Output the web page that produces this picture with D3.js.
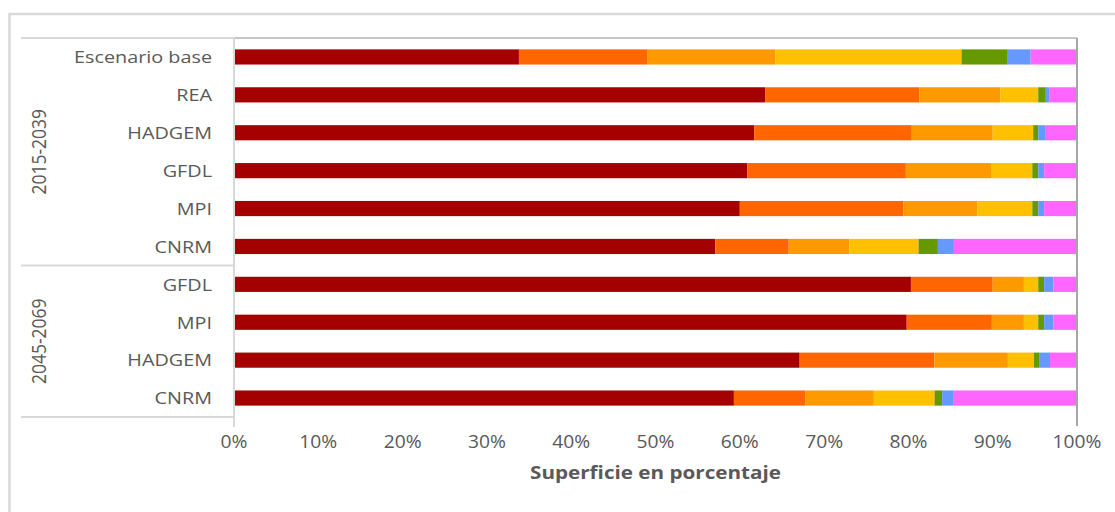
<!DOCTYPE html>
<html>
<head>
<meta charset="utf-8">
<script src="https://cdn.jsdelivr.net/npm/d3@7"></script>
<style>
  html, body { margin: 0; padding: 0; background: #fff; }
  svg { display: block; }
  text { font-family: "Open Sans", sans-serif; fill: #595959; }
</style>
</head>
<body>
<svg id="chart" width="1115" height="512"></svg>
<script>
// ---- Data ----
const categories = ["Escenario base", "REA", "HADGEM", "GFDL", "MPI", "CNRM", "GFDL", "MPI", "HADGEM", "CNRM"];
const groupLabels = ["2015-2039", "2045-2069"];
const groupSizes = [6, 4];
const seriesNames = ["c1", "c2", "c3", "c4", "c5", "c6", "c7"];
const s1 = [33.8, 63.0, 61.7, 60.9, 60.0, 57.1, 80.3, 79.8, 67.1, 59.3];
const s2 = [15.2, 18.3, 18.7, 18.8, 19.4, 8.7, 9.7, 10.1, 16.0, 8.5];
const s3 = [15.2, 9.6, 9.6, 10.1, 8.8, 7.2, 3.7, 3.8, 8.7, 8.1];
const s4 = [22.1, 4.5, 4.8, 4.9, 6.5, 8.2, 1.7, 1.7, 3.1, 7.2];
const s5 = [5.4, 0.9, 0.6, 0.7, 0.7, 2.3, 0.7, 0.7, 0.6, 0.9];
const s6 = [2.8, 0.4, 0.9, 0.7, 0.7, 1.9, 1.1, 1.1, 1.3, 1.3];
const s7 = [5.5, 3.3, 3.7, 3.9, 3.9, 14.6, 2.8, 2.8, 3.2, 14.7];
const colors = ["#A50000", "#FF6600", "#FF9900", "#FFC000", "#669900", "#6699FF", "#FF66FF"];
const xTicks = [0, 10, 20, 30, 40, 50, 60, 70, 80, 90, 100];
const xTitle = "Superficie en porcentaje";

// ---- Build table ----
const seriesVals = [s1, s2, s3, s4, s5, s6, s7];
const rows = categories.map((c, i) => {
  const r = { idx: i, cat: c };
  seriesNames.forEach((s, k) => r[s] = seriesVals[k][i]);
  return r;
});
const stacked = d3.stack().keys(seriesNames)(rows);

// ---- Layout ----
const svg = d3.select("#chart");
const plotL = 234, plotR = 1077, plotT = 38, plotB = 417;
const SX = 1.2;

const x = d3.scaleLinear().domain([0, 100]).range([plotL, plotR]);
const y = d3.scaleBand().domain(d3.range(categories.length)).range([plotT, plotB])
  .paddingInner(0.6).paddingOuter(0.3);

// outer frame
svg.append("rect").attr("x", 9.5).attr("y", 14).attr("width", 1200).attr("height", 600)
  .attr("fill", "none").attr("stroke", "#d9d9d9").attr("stroke-width", 2.5);

// bars
svg.append("g").selectAll("g").data(stacked).join("g")
  .attr("fill", (d, k) => colors[k])
  .selectAll("rect").data(d => d).join("rect")
  .attr("x", d => x(d[0]))
  .attr("width", d => x(d[1]) - x(d[0]))
  .attr("y", d => y(d.data.idx))
  .attr("height", y.bandwidth());

// plot border top & right (darker)
svg.append("line").attr("x1", plotL).attr("x2", plotR).attr("y1", plotT).attr("y2", plotT)
  .attr("stroke", "#b4b4b4").attr("stroke-width", 1.5);
svg.append("line").attr("x1", plotR).attr("x2", plotR).attr("y1", plotT).attr("y2", plotB + 9)
  .attr("stroke", "#a6a6a6").attr("stroke-width", 2);

// left axis line
svg.append("line").attr("x1", plotL).attr("x2", plotL).attr("y1", plotT).attr("y2", plotB + 10)
  .attr("stroke", "#d9d9d9").attr("stroke-width", 2);

// group separator lines
const step = y.step();
let bounds = [plotT];
let acc = 0;
groupSizes.forEach(n => { acc += n; bounds.push(plotT + acc * step); });
bounds.forEach(b => {
  svg.append("line").attr("x1", 21).attr("x2", plotL).attr("y1", b).attr("y2", b)
    .attr("stroke", "#d9d9d9").attr("stroke-width", 2);
});

// category labels
svg.append("g").selectAll("text").data(rows).join("text")
  .attr("transform", d => `translate(212,${y(d.idx) + y.bandwidth() / 2}) scale(${SX},1)`)
  .attr("text-anchor", "end").attr("dominant-baseline", "central")
  .style("font-size", "16.5px")
  .text(d => d.cat);

// group labels
groupLabels.forEach((g, i) => {
  const cy = (bounds[i] + bounds[i + 1]) / 2;
  svg.append("text")
    .attr("transform", `translate(39,${cy}) scale(1.15,1) rotate(-90)`)
    .attr("text-anchor", "middle").attr("dominant-baseline", "central")
    .style("font-size", "17.5px")
    .text(g);
});

// x tick labels
svg.append("g").selectAll("text").data(xTicks).join("text")
  .attr("transform", d => `translate(${x(d)},441) scale(1.1,1)`)
  .attr("text-anchor", "middle").attr("dominant-baseline", "central")
  .style("font-size", "17.5px")
  .text(d => d3.format("d")(d) + "%");

// x title
svg.append("text")
  .attr("transform", `translate(${(plotL + plotR) / 2},473) scale(1.18,1)`)
  .attr("text-anchor", "middle").attr("dominant-baseline", "central")
  .style("font-size", "17.5px").style("font-weight", "bold")
  .text(xTitle);
</script>
</body>
</html>
